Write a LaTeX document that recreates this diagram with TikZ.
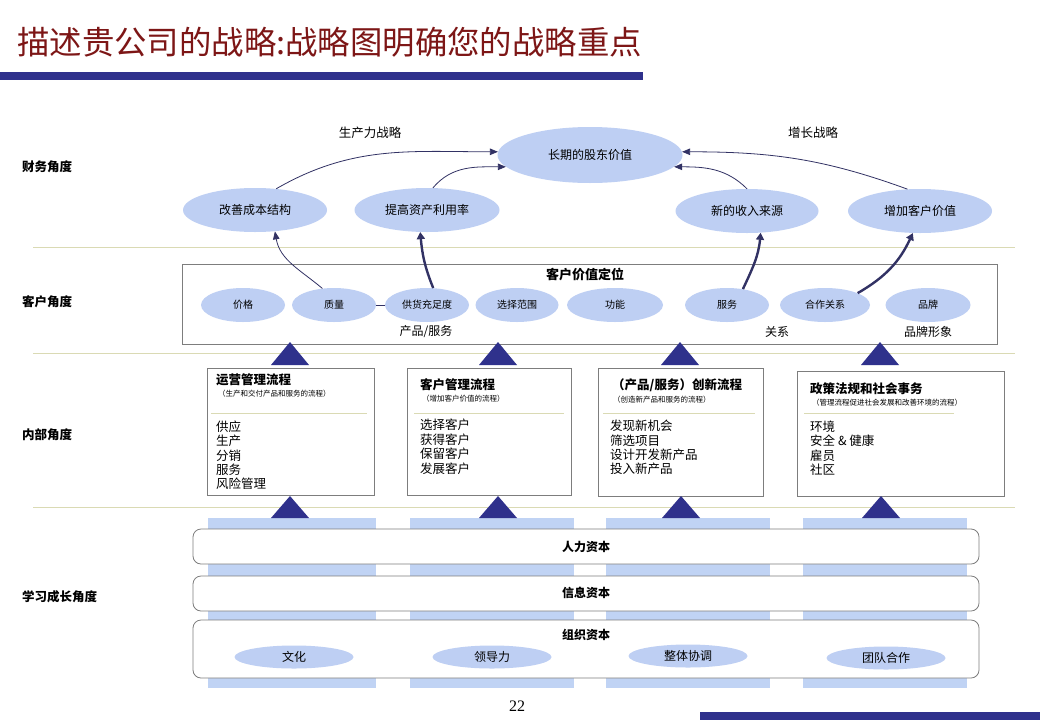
\documentclass[tikz,border=0pt]{standalone}
\usepackage{fontspec}
\setmainfont{Noto Sans CJK SC}
\newfontfamily\serifnum{Liberation Serif}
\usetikzlibrary{shapes.geometric,arrows.meta}
\definecolor{ellblue}{RGB}{190,207,243}
\definecolor{colblue}{RGB}{192,211,244}
\definecolor{navy}{RGB}{47,49,140}
\definecolor{arrowc}{RGB}{50,50,100}
\definecolor{titlered}{RGB}{125,22,22}
\definecolor{sepc}{RGB}{218,218,180}
\definecolor{boxgray}{RGB}{125,125,125}
\newcommand\myfs[1]{\fontsize{#1}{#1}\selectfont}
\begin{document}
\begin{tikzpicture}[x=1pt,y=1pt,
 finell/.style={ellipse, fill=ellblue, inner sep=0pt, minimum width=#1, minimum height=44pt, font=\myfs{12}},
 custell/.style={ellipse, fill=ellblue, inner sep=0pt, minimum width=#1, minimum height=34pt, font=\myfs{10}},
 orgell/.style={ellipse, fill=ellblue, inner sep=0pt, minimum width=119pt, minimum height=23pt, font=\myfs{12}},
 ibox/.style={draw=boxgray, line width=0.8pt, fill=white, inner sep=0pt},
 capbox/.style={draw=boxgray, line width=0.8pt, fill=white, rounded corners=8pt, inner sep=0pt, minimum width=786pt},
 sepline/.style={draw=sepc, line width=1pt},
 rowlab/.style={font=\myfs{12.5}\bfseries, anchor=west, inner sep=0pt},
 thinarr/.style={draw=arrowc, line width=0.8pt, -{Triangle[length=8pt,width=6.5pt]}},
 thickarr/.style={draw=arrowc, line width=2.4pt, -{Triangle[length=7pt,width=8pt]}},
 ttl/.style={font=\myfs{12.5}\bfseries, anchor=west, inner sep=0pt},
 subttl/.style={font=\myfs{7.5}, anchor=west, inner sep=0pt},
 items/.style={font=\fontsize{12.5}{14.4}\selectfont, anchor=north west, align=left, inner sep=0pt},
 lbl/.style={font=\myfs{12}, inner sep=0pt},
]
\useasboundingbox (0,0) rectangle (1040,-720);
\fill[white] (0,0) rectangle (1040,-720);

% title and bars
\node[font=\myfs{32.4}, text=titlered, anchor=west, inner sep=0pt] (title) at (17,-42) {描述贵公司的战略:战略图明确您的战略重点};
\fill[navy] (0,-72) rectangle (643,-80);
\fill[navy] (700,-712) rectangle (1040,-720);

% separators
\draw[sepline] (33,-247) -- (1015,-247);
\draw[sepline] (33,-353) -- (1015,-353);
\draw[sepline] (33,-507) -- (1015,-507);

% row labels
\node[rowlab] (r1) at (22,-167) {财务角度};
\node[rowlab] (r2) at (22,-302) {客户角度};
\node[rowlab] (r3) at (22,-435) {内部角度};
\node[rowlab] (r4) at (22,-597) {学习成长角度};

% finance
\node[finell=185pt, minimum height=56pt] (ltv) at (590,-155) {长期的股东价值};
\node[finell=144pt] (c1) at (255,-210) {改善成本结构};
\node[finell=145pt] (c2) at (427,-210) {提高资产利用率};
\node[finell=143pt] (c3) at (747,-211) {新的收入来源};
\node[finell=144pt] (c4) at (920,-211) {增加客户价值};
\node[lbl, font=\myfs{12.5}] (ps) at (370,-133) {生产力战略};
\node[lbl, font=\myfs{12.5}] (gs) at (813,-133) {增长战略};

% customer
\node[ibox, minimum width=815pt, minimum height=80pt] (cbox) at (590,-304) {};
\node[font=\myfs{13}\bfseries, inner sep=0pt] (cvp) at (585,-274) {客户价值定位};
\node[custell=84pt] (pr) at (243,-305) {价格};
\node[custell=84pt] (q) at (334,-305) {质量};
\node[custell=84pt] (s) at (427,-305) {供货充足度};
\node[custell=83pt] (sel) at (517,-305) {选择范围};
\node[custell=96pt] (fn) at (615,-305) {功能};
\node[custell=84pt] (sv) at (727,-305) {服务};
\node[custell=90pt] (pt) at (825,-305) {合作关系};
\node[custell=85pt] (br) at (928,-305) {品牌};
\node[lbl] (l1) at (426,-332) {产品/服务};
\node[lbl] (l2) at (777,-332) {关系};
\node[lbl] (l3) at (928,-332) {品牌形象};
\draw[draw=arrowc, line width=0.8pt] (q.east) -- (s.west);

% arrows
\draw[thinarr] (c1.45) to[out=30,in=180] (ltv.178);
\draw[thinarr] (c2.75) to[out=50,in=180] (ltv.188);
\draw[thinarr] (c3.90) to[out=135,in=0] (ltv.-8);
\draw[thinarr] (c4.120) to[out=160,in=0] (ltv.2);
\draw[thinarr] (q.125) to[out=140,in=-80] (c1.-47);
\draw[thickarr] (s.70) to[out=112,in=-85] (c2.-107);
\draw[thickarr] (sv.45) to[out=65,in=-95] (c3.-58);
\draw[thickarr] (pt.20) to[out=30,in=-115] (c4.-108);

% triangles top row
\foreach \t in {290,498,680,880}
  \fill[navy] (\t-19,-365) -- (\t,-342) -- (\t+19,-365) -- cycle;

% internal boxes
\node[ibox, minimum width=167pt, minimum height=127pt] (b1) at (290.5,-431.5) {};
\node[ibox, minimum width=164pt, minimum height=127pt] (b2) at (489,-431.5) {};
\node[ibox, minimum width=165pt, minimum height=128pt] (b3) at (680.5,-432) {};
\node[ibox, minimum width=207pt, minimum height=125pt] (b4) at (900.5,-433.5) {};

\node[ttl] (t1) at (216,-380) {运营管理流程};
\node[subttl] (s1) at (218,-394) {（生产和交付产品和服务的流程）};
\draw[sepline] (211,-413) -- (367,-413);
\node[items] (i1) at (216,-420.5) {供应\\生产\\分销\\服务\\风险管理};

\node[ttl] (t2) at (420,-385) {客户管理流程};
\node[subttl] (s2) at (422,-399) {（增加客户价值的流程）};
\draw[sepline] (414,-413) -- (564,-413);
\node[items] (i2) at (420,-419) {选择客户\\获得客户\\保留客户\\发展客户};

\node[ttl] (t3) at (612,-385) {（产品/服务）创新流程};
\node[subttl] (s3) at (613,-400) {（创造新产品和服务的流程）};
\draw[sepline] (603,-413) -- (755,-413);
\node[items] (i3) at (610,-420) {发现新机会\\筛选项目\\设计开发新产品\\投入新产品};

\node[ttl] (t4) at (810,-389) {政策法规和社会事务};
\node[subttl] (s4) at (812,-403) {（管理流程促进社会发展和改善环境的流程）};
\draw[sepline] (804,-413) -- (954,-413);
\node[items] (i4) at (810,-420.5) {环境\\安全 \& 健康\\雇员\\社区};

% columns
\foreach \a/\b in {208/376,410/574,606/770,803/967}
  \fill[colblue] (\a,-518) rectangle (\b,-688);

% triangles bottom row
\foreach \t in {290,498,681,881}
  \fill[navy] (\t-19,-518) -- (\t,-496) -- (\t+19,-518) -- cycle;

% capital boxes
\node[capbox, minimum height=35pt] (hc) at (586,-546.5) {};
\node[capbox, minimum height=35pt] (ic) at (586,-593.5) {};
\node[capbox, minimum height=58pt] (oc) at (586,-649) {};
\node[font=\myfs{12}\bfseries, inner sep=0pt] (hct) at (586,-547) {人力资本};
\node[font=\myfs{12}\bfseries, inner sep=0pt] (ict) at (586,-593) {信息资本};
\node[font=\myfs{12}\bfseries, inner sep=0pt] (oct) at (586,-635) {组织资本};
\node[orgell] (o1) at (294,-657) {文化};
\node[orgell] (o2) at (492,-657) {领导力};
\node[orgell] (o3) at (688,-656) {整体协调};
\node[orgell] (o4) at (886,-658) {团队合作};

% page number
\node[font=\serifnum\myfs{16}, inner sep=0pt] (pg) at (517,-706) {22};
\end{tikzpicture}
\end{document}
